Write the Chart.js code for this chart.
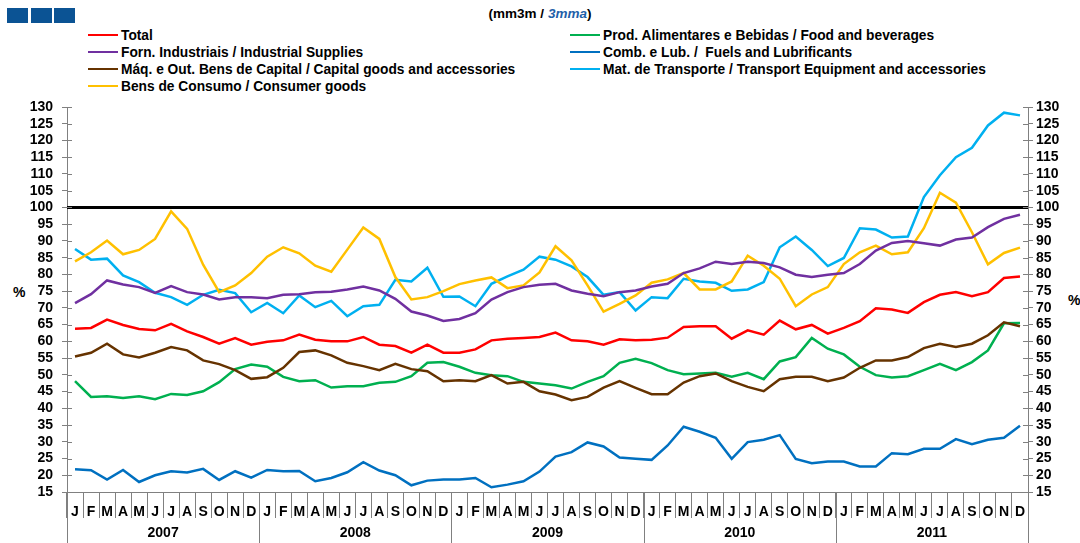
<!DOCTYPE html>
<html>
<head>
<meta charset="utf-8">
<script src="https://cdn.jsdelivr.net/npm/chart.js@4.4.1/dist/chart.umd.min.js"></script>
<style>
  body{margin:0;background:#fff;font-family:"Liberation Sans",Arial,sans-serif;}
  #wrap{position:relative;width:1080px;height:543px;overflow:hidden;}
  #wrap canvas{position:absolute;left:0;top:0;}
  .boxes span{position:absolute;top:8px;width:21px;height:15px;background:#0b5394;}
  .ttl{position:absolute;top:6px;left:0;width:1080px;text-align:center;font-weight:bold;font-size:13.5px;}
  .ttl i{color:#1f5fa8;}
  .lg{position:absolute;top:27px;font-weight:bold;font-size:13.75px;line-height:17px;white-space:nowrap;color:#000;}
  .lg div{height:17px;}
  .lg b{display:inline-block;width:30px;height:2px;vertical-align:middle;margin-right:3px;position:relative;top:-1px;}
  .pct{position:absolute;font-weight:bold;font-size:14px;}
</style>
</head>
<body>
<div id="wrap">
  <div class="boxes"><span style="left:7px"></span><span style="left:31px"></span><span style="left:54px"></span></div>
  <div class="ttl">(mm3m / <i>3mma</i>)</div>
  <div class="lg" id="lgLeft" style="left:88px"></div>
  <div class="lg" id="lgRight" style="left:570px"></div>
  <div class="pct" style="left:13px;top:284px">%</div>
  <div class="pct" style="left:1068px;top:292px">%</div>
  <canvas id="c" width="1080" height="543"></canvas>
</div>
<script>
// eixo x: meses 2007-2011
const years  = ['2007','2008','2009','2010','2011'];
const months = ['J','F','M','A','M','J','J','A','S','O','N','D'];

// eixo y
const yMin = 15, yMax = 130, yStep = 5;
const refLine = 100;

// séries (mm3m / 3mma)
const total = [
  63.8,64.0,66.5,64.9,63.7,63.3,65.2,63.0,61.3,59.3,61.0,59.0,
  59.9,60.3,62.0,60.5,60.0,60.0,61.3,59.0,58.6,56.6,59.0,56.6,
  56.6,57.6,60.3,60.8,61.0,61.3,62.6,60.3,60.0,59.0,60.6,60.3,
  60.5,61.1,64.3,64.5,64.5,60.8,63.3,62.0,66.2,63.6,64.9,62.3,
  64.0,66.0,69.9,69.5,68.5,71.7,73.9,74.7,73.5,74.7,78.9,79.4
];
const food = [
  48.1,43.4,43.6,43.1,43.6,42.7,44.3,44.0,45.1,47.8,51.7,53.1,
  52.4,49.4,48.1,48.4,46.2,46.6,46.6,47.6,47.9,49.6,53.6,53.8,
  52.4,50.6,49.9,49.6,47.9,47.4,46.9,45.9,47.9,49.6,53.6,54.8,
  53.5,51.4,50.2,50.4,50.6,49.4,50.6,48.7,54.0,55.3,61.0,57.8,
  56.1,52.4,49.9,49.2,49.6,51.4,53.3,51.4,53.8,57.3,65.4,65.5
];
const industrial = [
  71.4,74.1,78.2,77.0,76.2,74.5,76.5,74.7,74.0,72.5,73.2,73.2,
  72.9,73.9,74.1,74.7,74.8,75.5,76.4,75.2,72.7,68.9,67.7,66.1,
  66.7,68.4,72.5,74.7,76.2,76.9,77.2,75.2,74.2,73.5,74.7,75.2,
  76.4,77.2,80.4,81.8,83.8,83.1,83.8,83.4,82.1,79.9,79.2,79.9,
  80.4,83.1,87.1,89.4,90.0,89.3,88.6,90.4,91.0,94.1,96.6,97.8
];
const fuels = [
  21.8,21.5,18.7,21.6,18.0,20.0,21.2,20.8,21.9,18.6,21.2,19.3,
  21.6,21.2,21.3,18.2,19.2,20.9,23.9,21.4,20.0,17.0,18.4,18.7,
  18.7,19.2,16.4,17.2,18.2,21.1,25.6,26.9,29.8,28.6,25.3,24.9,
  24.6,28.9,34.5,33.0,31.2,24.9,29.9,30.6,32.0,24.9,23.6,24.1,
  24.1,22.6,22.6,26.6,26.3,27.9,27.9,30.8,29.3,30.6,31.2,34.8
];
const capital = [
  55.5,56.6,59.3,56.1,55.2,56.6,58.3,57.3,54.3,53.2,51.4,48.8,
  49.3,52.1,56.8,57.3,55.8,53.6,52.6,51.4,53.3,51.7,51.1,48.1,
  48.4,48.1,49.9,47.4,47.9,45.1,44.1,42.4,43.4,46.2,48.1,46.1,
  44.2,44.2,47.7,49.6,50.4,48.1,46.4,45.1,48.7,49.4,49.4,48.1,
  49.2,52.1,54.3,54.3,55.3,58.0,59.3,58.3,59.3,61.8,65.7,64.5
];
const transport = [
  87.6,84.4,84.7,79.7,77.7,74.5,73.2,70.9,73.9,75.4,74.4,68.7,
  71.5,68.4,73.7,70.2,72.1,67.5,70.5,70.9,78.4,77.9,82.0,73.3,
  73.4,70.5,77.2,79.4,81.4,85.3,84.4,82.4,79.2,73.9,74.7,69.2,
  73.2,72.9,78.7,77.9,77.5,75.1,75.5,77.7,88.1,91.3,87.3,82.5,
  84.9,93.8,93.4,91.0,91.3,103.1,109.6,115.0,117.8,124.5,128.3,127.5
];
const consumer = [
  83.9,86.6,90.1,86.0,87.3,90.6,98.8,93.6,82.9,74.7,76.7,80.4,
  85.3,88.1,86.3,82.6,80.8,87.4,94.0,90.6,79.2,72.5,73.2,75.0,
  77.1,78.2,79.1,75.9,76.7,80.6,88.4,84.2,76.7,68.9,71.2,73.7,
  77.5,78.5,80.4,75.5,75.5,77.9,85.6,82.6,78.7,70.5,74.0,76.2,
  83.1,86.6,88.6,86.0,86.6,93.8,104.4,101.4,92.6,83.0,86.4,88.0
];

const series = [
  { label:'Total', data: total, color:'#ff0000', col:0 },
  { label:'Forn. Industriais / Industrial Supplies', data: industrial, color:'#7030a0', col:0 },
  { label:'Máq. e Out. Bens de Capital / Capital goods and accessories', data: capital, color:'#663300', col:0 },
  { label:'Bens de Consumo / Consumer goods', data: consumer, color:'#ffc000', col:0 },
  { label:'Prod. Alimentares e Bebidas / Food and beverages', data: food, color:'#00b050', col:1 },
  { label:'Comb. e Lub. /  Fuels and Lubrificants', data: fuels, color:'#0070c0', col:1 },
  { label:'Mat. de Transporte / Transport Equipment and accessories', data: transport, color:'#00b0f0', col:1 },
];

// legenda HTML
series.forEach(s=>{
  const el = document.getElementById(s.col ? 'lgRight' : 'lgLeft');
  const row = document.createElement('div');
  row.innerHTML = `<b style="background:${s.color}"></b>${s.label.replace(/ {2}/g,' &nbsp;')}`;
  el.appendChild(row);
});

const GRAY = '#808080';
const labels = years.flatMap(()=>months);

const decor = {
  id:'decor',
  beforeDatasetsDraw(chart){
    const {ctx, chartArea:a, scales:{y}} = chart;
    const py = y.getPixelForValue(refLine);
    ctx.save();
    ctx.strokeStyle = '#000'; ctx.lineWidth = 3;
    ctx.beginPath(); ctx.moveTo(a.left, py); ctx.lineTo(a.right, py); ctx.stroke();
    // marcas internas dos eixos
    ctx.strokeStyle = GRAY; ctx.lineWidth = 1;
    y.ticks.forEach(t=>{
      const p = Math.round(y.getPixelForValue(t.value)) + 0.5;
      ctx.beginPath();
      ctx.moveTo(a.left, p); ctx.lineTo(a.left + 5, p);
      ctx.moveTo(a.right, p); ctx.lineTo(a.right - 5, p);
      ctx.stroke();
    });
    ctx.restore();
  },
  afterDraw(chart){
    const {ctx, chartArea:a, scales:{x}} = chart;
    const catW = (a.right - a.left) / labels.length;
    ctx.save();
    ctx.strokeStyle = GRAY; ctx.lineWidth = 1;
    for (let b = 0; b <= years.length; b++){
      const px = Math.round(a.left + b * months.length * catW) + 0.5;
      ctx.beginPath(); ctx.moveTo(px, a.bottom); ctx.lineTo(px, chart.height); ctx.stroke();
    }
    ctx.fillStyle = '#000';
    ctx.font = 'bold 14px "Liberation Sans", Arial, sans-serif';
    ctx.textAlign = 'center'; ctx.textBaseline = 'middle';
    years.forEach((yr, b)=>{
      const i0 = b * months.length, i1 = i0 + months.length - 1;
      const cx = (x.getPixelForValue(i0) + x.getPixelForValue(i1)) / 2;
      ctx.fillText(yr, cx, 533);
    });
    ctx.restore();
  }
};

Chart.defaults.font.family = '"Liberation Sans", Arial, sans-serif';
Chart.defaults.font.weight = 'bold';
Chart.defaults.color = '#000';

new Chart(document.getElementById('c'), {
  type:'line',
  data:{
    labels,
    datasets: series.map(s=>({
      label: s.label, data: s.data,
      borderColor: s.color, backgroundColor: s.color,
      borderWidth: 2.5, pointRadius: 0, tension: 0, fill: false
    }))
  },
  options:{
    responsive:false, animation:false, devicePixelRatio:1,
    layout:{ padding:{ top:107, left:0, right:0, bottom:0 } },
    plugins:{ legend:{ display:false }, tooltip:{ enabled:false } },
    scales:{
      x:{
        offset:true,
        afterFit: s => { s.height = 51; },
        border:{ color:GRAY, width:1 },
        grid:{ display:true, offset:true, drawOnChartArea:false, tickLength:26, color:GRAY },
        ticks:{ autoSkip:false, maxRotation:0, padding:-14, font:{ size:14, weight:'bold' } }
      },
      y:{
        position:'left', min:yMin, max:yMax,
        afterFit: s => { s.width = 67; },
        border:{ color:GRAY, width:1 },
        grid:{ drawOnChartArea:false, tickLength:5, color:GRAY },
        ticks:{ stepSize:yStep, autoSkip:false, padding:9, font:{ size:14, weight:'bold' } }
      },
      y2:{
        position:'right', min:yMin, max:yMax,
        afterFit: s => { s.width = 52; },
        border:{ color:GRAY, width:1 },
        grid:{ drawOnChartArea:false, tickLength:5, color:GRAY },
        ticks:{ stepSize:yStep, autoSkip:false, padding:3, font:{ size:14, weight:'bold' } }
      }
    }
  },
  plugins:[decor]
});
</script>
</body>
</html>
